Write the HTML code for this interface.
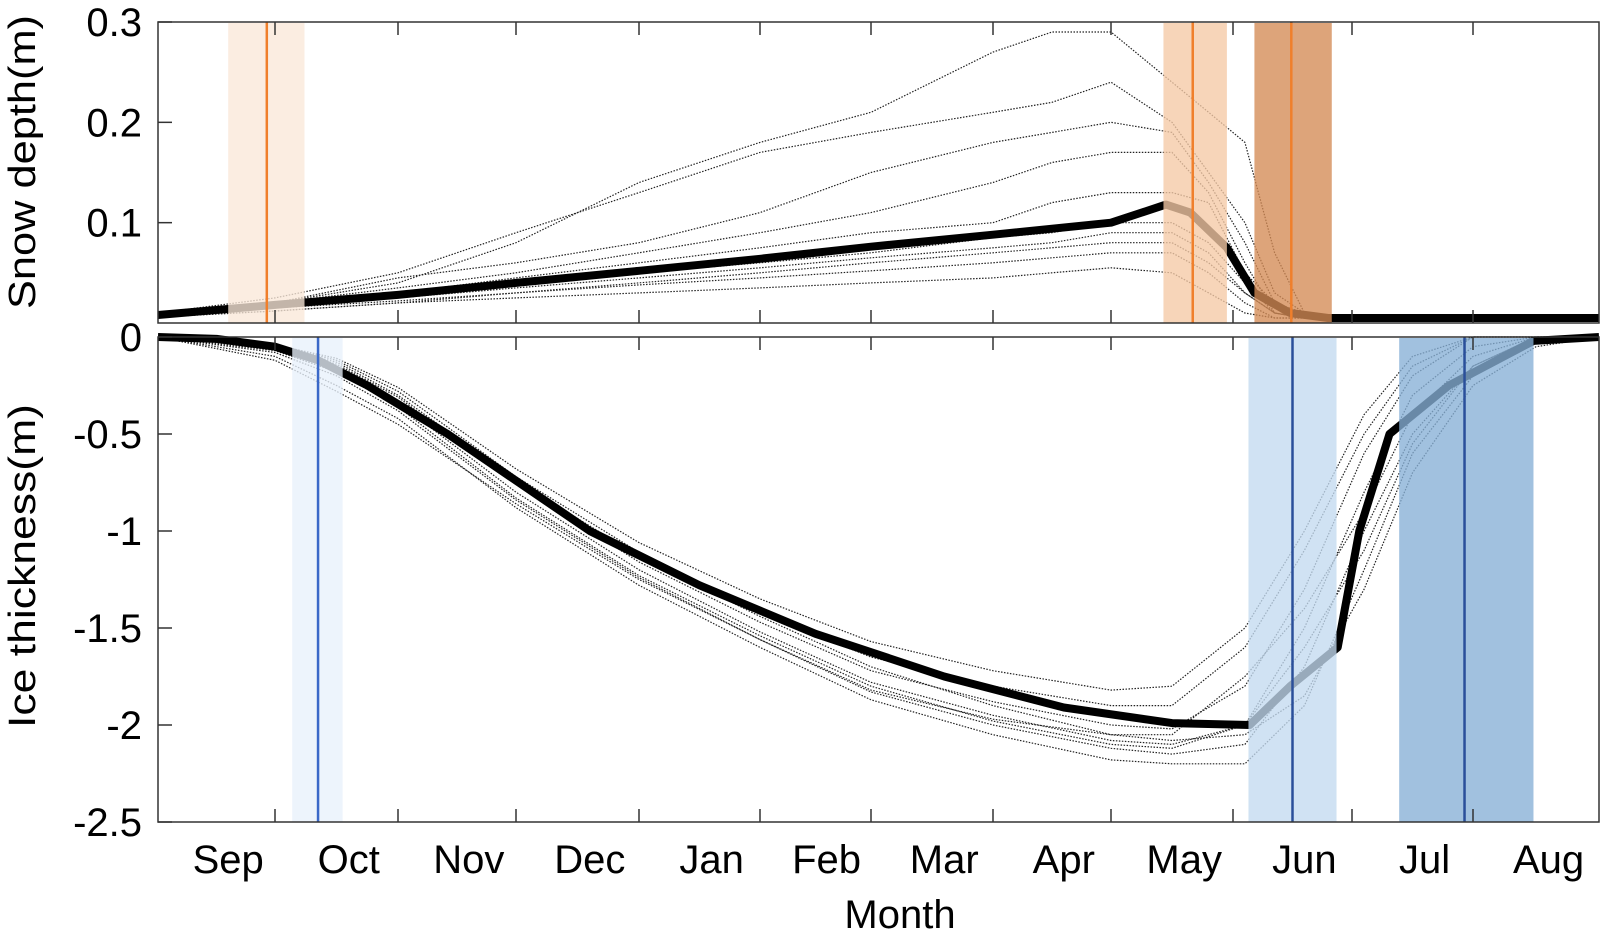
<!DOCTYPE html>
<html><head><meta charset="utf-8"><style>
html,body{margin:0;padding:0;background:#fff;}
svg{display:block;font-family:"Liberation Sans",sans-serif;}
</style></head><body>
<svg id="chart" width="1600" height="931" viewBox="0 0 1600 931" xmlns="http://www.w3.org/2000/svg"></svg>
<script>
// ---- data ----
const monthLabels = ["Sep","Oct","Nov","Dec","Jan","Feb","Mar","Apr","May","Jun","Jul","Aug"];
const snowTicks = [0.1,0.2,0.3];
const snowTickLabels = ["0.1","0.2","0.3"];
const iceTicks = [0,-0.5,-1,-1.5,-2,-2.5];
const iceTickLabels = ["0","-0.5","-1","-1.5","-2","-2.5"];

const snowMeanT = [0,1,2,3,4,5,6,7,8,8.45,8.65,8.95,9.18,9.48,9.8,12];
const snowMeanV = [0.008,0.018,0.028,0.04,0.052,0.064,0.076,0.088,0.1,0.118,0.11,0.075,0.03,0.01,0.005,0.005];

const snowEnsT = [0,1,2,3,4,5,6,7,7.5,8,8.5,8.8,9.1,9.35,9.6,10,12];
const snowEns = [
 [0.01,0.02,0.04,0.08,0.14,0.18,0.21,0.27,0.29,0.29,0.24,0.21,0.18,0.07,0.01,0.005,0.005],
 [0.01,0.025,0.05,0.09,0.13,0.17,0.19,0.21,0.22,0.24,0.2,0.15,0.1,0.03,0.01,0.005,0.005],
 [0.01,0.02,0.045,0.06,0.08,0.11,0.15,0.18,0.19,0.2,0.19,0.14,0.08,0.02,0.005,0.005,0.005],
 [0.01,0.02,0.035,0.05,0.07,0.09,0.11,0.14,0.16,0.17,0.17,0.13,0.06,0.01,0.005,0.005,0.005],
 [0.01,0.02,0.03,0.045,0.06,0.075,0.09,0.1,0.12,0.13,0.13,0.12,0.05,0.02,0.01,0.005,0.005],
 [0.008,0.018,0.028,0.04,0.05,0.06,0.07,0.085,0.09,0.1,0.1,0.08,0.04,0.01,0.005,0.005,0.005],
 [0.008,0.015,0.025,0.035,0.045,0.055,0.065,0.075,0.08,0.09,0.09,0.07,0.03,0.01,0.005,0.005,0.005],
 [0.008,0.015,0.022,0.03,0.038,0.045,0.052,0.06,0.065,0.07,0.07,0.05,0.02,0.005,0.005,0.005,0.005],
 [0.006,0.012,0.02,0.025,0.03,0.035,0.04,0.045,0.05,0.055,0.05,0.03,0.01,0.005,0.005,0.005,0.005],
 [0.006,0.012,0.02,0.03,0.04,0.05,0.06,0.07,0.075,0.08,0.08,0.06,0.03,0.01,0.005,0.005,0.005]
];

const iceMeanT = [0,0.5,1,1.35,1.75,2.42,3.6,4.5,5.5,6.6,7.6,8.5,9.14,9.48,9.88,10.06,10.31,10.8,11.48,12];
const iceMeanV = [0,-0.01,-0.05,-0.12,-0.25,-0.5,-1.0,-1.28,-1.53,-1.75,-1.91,-1.99,-2.0,-1.8,-1.6,-1.0,-0.5,-0.25,-0.02,0];

const iceEnsT = [0,1,1.5,2,3,4,5,6,7,8,8.5,9.1,9.6,10.1,10.5,11,11.5,12];
const iceEns = [
 [0,-0.1,-0.25,-0.42,-0.88,-1.28,-1.6,-1.87,-2.05,-2.18,-2.2,-2.2,-1.9,-1.2,-0.6,-0.2,-0.02,0],
 [0,-0.08,-0.2,-0.38,-0.84,-1.24,-1.56,-1.83,-2.0,-2.12,-2.15,-2.1,-1.7,-1.0,-0.5,-0.15,0,0],
 [0,-0.06,-0.16,-0.34,-0.8,-1.2,-1.52,-1.78,-1.95,-2.08,-2.1,-2.0,-1.5,-0.8,-0.3,-0.05,0,0],
 [0,-0.05,-0.14,-0.31,-0.76,-1.16,-1.47,-1.72,-1.88,-2.0,-2.02,-1.8,-1.3,-0.6,-0.2,0,0,0],
 [0,-0.04,-0.12,-0.28,-0.72,-1.11,-1.42,-1.65,-1.8,-1.9,-1.9,-1.6,-1.1,-0.5,-0.15,0,0,0],
 [0,-0.04,-0.11,-0.26,-0.68,-1.06,-1.35,-1.57,-1.72,-1.82,-1.8,-1.5,-1.0,-0.4,-0.1,0,0,0],
 [0,-0.05,-0.13,-0.3,-0.74,-1.13,-1.44,-1.7,-1.9,-2.05,-2.08,-2.05,-1.85,-1.3,-0.7,-0.25,-0.05,0],
 [0,-0.07,-0.18,-0.36,-0.83,-1.23,-1.54,-1.8,-1.98,-2.1,-2.12,-2.0,-1.6,-1.1,-0.55,-0.15,0,0],
 [0,-0.12,-0.28,-0.45,-0.86,-1.25,-1.56,-1.82,-1.97,-2.05,-2.05,-1.75,-1.4,-0.9,-0.4,-0.1,0,0]
];

const snowBands = [[0.6,1.24,0.93],[8.43,8.95,8.67],[9.18,9.83,9.49]];
const iceBands = [[1.14,1.55,1.35],[9.13,9.87,9.5],[10.39,11.48,10.93]];

// ---- layout ----
const tickX = [158,275,398,516,639,760,871,993,1111,1233,1352,1473,1599];
const L=158,R=1599, sTop=22, sBot=323, iTop=337, iBot=822;
function xm(m){ if(m<=0) return tickX[0]; if(m>=12) return tickX[12];
  const i=Math.floor(m); return tickX[i]+(tickX[i+1]-tickX[i])*(m-i); }
function ys(v){ return sBot-(v/0.3)*(sBot-sTop); }
function yi(v){ return iTop+(-v/2.5)*(iBot-iTop); }

const svg=document.getElementById('chart');
const NS="http://www.w3.org/2000/svg";
function mk(tag,attrs,parent){const e=document.createElementNS(NS,tag);for(const k in attrs)e.setAttribute(k,attrs[k]);(parent||svg).appendChild(e);return e;}
function pts(T,V,yf){return T.map((t,i)=>xm(t).toFixed(1)+","+yf(V[i]).toFixed(1)).join(" ");}

function panel(name,top,bot,ensT,ens,meanT,meanV,yf,bands,bandCols,lineCols,ticks,tlabels){
  const g=mk('g',{});
  
  
  ens.forEach((s,k)=>{const p=mk('polyline',{points:pts(ensT,s,yf),fill:'none',stroke:'#222','stroke-width':1.2,'stroke-dasharray':'1.5 1.5'},g);
    
    });
  const m=mk('polyline',{points:pts(meanT,meanV,yf),fill:'none',stroke:'#000','stroke-width':8,'stroke-linejoin':'round'},g);
  
  
  bands.forEach((b,k)=>{const r=mk('rect',{x:xm(b[0]),y:top+1,width:xm(b[1])-xm(b[0]),height:bot-top-1,fill:bandCols[k],opacity:0.78},g);
    
    
    const l=mk('line',{x1:xm(b[2]),x2:xm(b[2]),y1:top,y2:bot,stroke:lineCols[k],'stroke-width':2.5},g);
    
    });
  const f=mk('rect',{x:L,y:top,width:R-L,height:bot-top,fill:'none',stroke:'#333','stroke-width':1.5},g);
  
  
  for(let i=1;i<12;i++){mk('line',{x1:tickX[i],x2:tickX[i],y1:bot,y2:bot-13,stroke:'#333','stroke-width':1.5},g);
    mk('line',{x1:tickX[i],x2:tickX[i],y1:top,y2:top+13,stroke:'#333','stroke-width':1.5},g);}
  ticks.forEach((t,k)=>{mk('line',{x1:L,x2:L+14,y1:yf(t),y2:yf(t),stroke:'#333','stroke-width':1.5},g);
    const tx=mk('text',{x:142,y:yf(t)+14,'text-anchor':'end','font-size':40,fill:'#000'},g);
    tx.textContent=tlabels[k];
    
    });
}
panel('snow',sTop,sBot,snowEnsT,snowEns,snowMeanT,snowMeanV,ys,snowBands,['#fae8d8','#f5c9a5','#d48a55'],['#f07f2b','#f07f2b','#f07f2b'],snowTicks,snowTickLabels);
panel('ice',iTop,iBot,iceEnsT,iceEns,iceMeanT,iceMeanV,yi,iceBands,['#e8f1fb','#c3daf0','#86afd6'],['#3a68c8','#2a4f9a','#2a4f9a'],iceTicks,iceTickLabels);

monthLabels.forEach((lab,i)=>{const t=mk('text',{x:xm(i+0.6),y:873,'text-anchor':'middle','font-size':40,fill:'#000'});
  t.textContent=lab;
  
  });
const xt=mk('text',{x:900,y:928,'text-anchor':'middle','font-size':40,fill:'#000'});xt.textContent='Month';


const y1=mk('text',{x:0,y:0,transform:'translate(35,162) rotate(-90)','text-anchor':'middle','font-size':38,textLength:294,lengthAdjust:'spacingAndGlyphs',fill:'#000'});y1.textContent='Snow depth(m)';


const y2=mk('text',{x:0,y:0,transform:'translate(35,566) rotate(-90)','text-anchor':'middle','font-size':38,textLength:324,lengthAdjust:'spacingAndGlyphs',fill:'#000'});y2.textContent='Ice thickness(m)';


</script>
</body></html>
